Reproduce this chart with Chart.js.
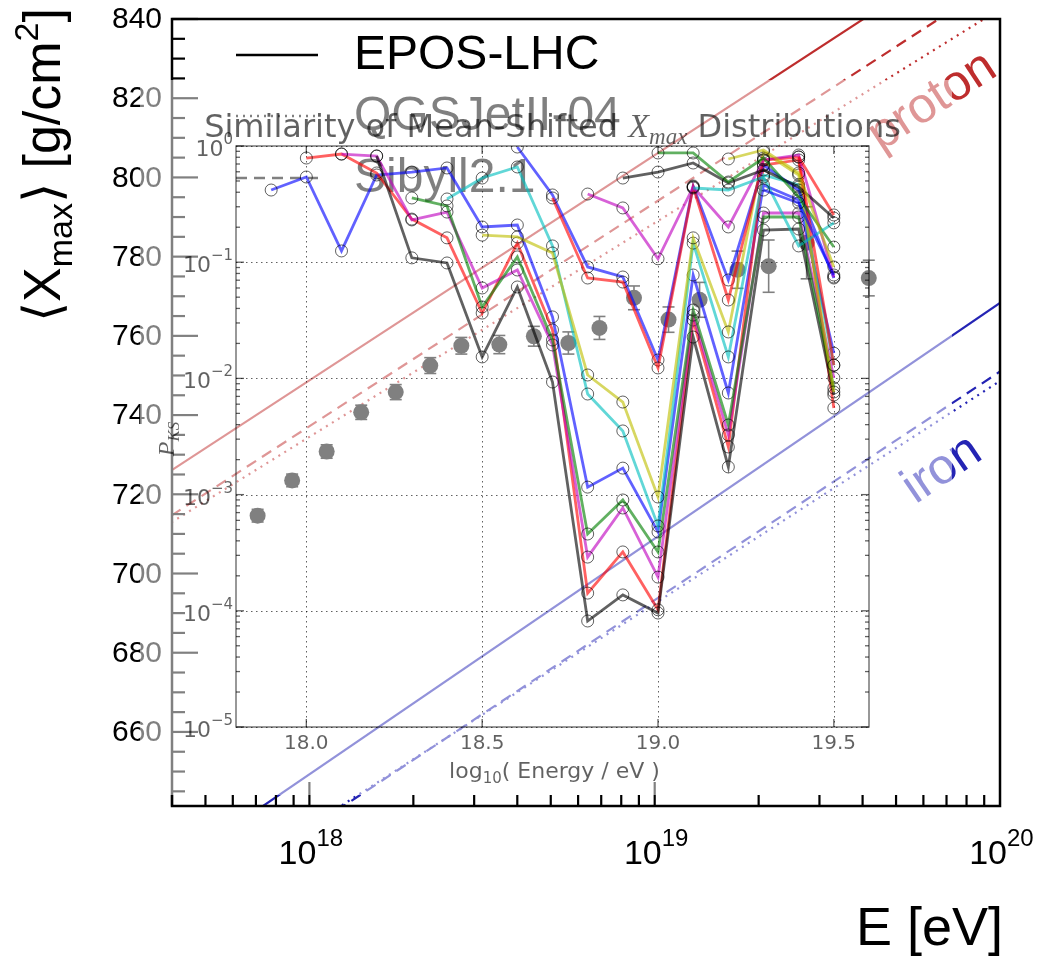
<!DOCTYPE html>
<html>
<head>
<meta charset="utf-8">
<script src="https://cdn.jsdelivr.net/npm/chart.js@4.4.1/dist/chart.umd.min.js"></script>
<style>
  html, body { margin: 0; padding: 0; background: #ffffff; }
  #stage { position: relative; width: 1040px; height: 960px; overflow: hidden; }
  #stage canvas { position: absolute; left: 0; top: 0; }
</style>
</head>
<body>
<div id="stage">
  <canvas id="xmaxCanvas" width="1040" height="960"></canvas>
  <canvas id="ksCanvas" width="1040" height="960"></canvas>
</div>
<script>
// ---------- <Xmax> vs energy: measured points ----------
const augerLogE = [17.85, 17.95, 18.05, 18.15, 18.25, 18.35, 18.44, 18.55, 18.65, 18.75, 18.84, 18.94, 19.04, 19.13, 19.24, 19.33, 19.44, 19.62];
const augerXmax = [714.6, 723.5, 730.8, 740.7, 745.8, 752.5, 757.5, 757.8, 759.9, 758.2, 762.0, 769.6, 764.1, 769.1, 776.7, 777.6, 783.5, 774.6];
const augerErr  = [1.6, 1.6, 1.7, 1.8, 1.9, 2.0, 2.1, 2.3, 2.5, 2.8, 2.9, 3.0, 3.2, 4.4, 4.7, 6.6, 9.1, 4.5];

// ---------- model predictions (straight lines in log E) ----------
const modelLogE     = [17.6, 20.0];
const protonEPOS    = [726.0, 862.5];
const protonQGSJet  = [712.9, 842.5];
const protonSibyll  = [714.6, 850.0];
const ironEPOS      = [625.5, 768.3];
const ironQGSJet    = [613.7, 748.6];
const ironSibyll    = [612.5, 751.0];

// ---------- axis ticks of the <Xmax> frame ----------
const xmaxTicks   = [660, 680, 700, 720, 740, 760, 780, 800, 820, 840];
const energyTicks = [18, 19, 20];
const legendNames = ['EPOS-LHC', 'QGSJetII-04', 'Sibyll2.1'];

// ---------- KS p-values of mean-shifted Xmax distributions ----------
const ksEnergy = [17.9, 18.0, 18.1, 18.2, 18.3, 18.4, 18.5, 18.6, 18.7, 18.8, 18.9, 19.0, 19.1, 19.2, 19.3, 19.4, 19.5];
const ref178 = [0.418, 0.541, 0.125, 0.563, 0.597, 0.647, 0.201, 0.209, 0.0338, 0.00116, 0.00169, 0.000477, 0.0776, 0.00749, 0.462, 0.343, 0.0165];
const ref179 = [null, 0.788, 0.853, 0.586, 0.235, 0.162, 0.0365, 0.146, 0.0261, 0.000142, 0.000321, 0.000102, 0.0318, 0.00257, 0.686, 0.758, 0.00556];
const ref180 = [null, null, 0.853, 0.820, 0.231, 0.270, 0.0600, 0.0857, 0.0194, 0.000290, 0.000767, 0.000195, 0.0351, 0.00326, 0.265, 0.265, 0.0101];
const ref181 = [null, null, null, 0.820, 0.109, 0.0985, 0.0153, 0.0612, 0.00931, 0.0000817, 0.000137, 0.0000957, 0.0227, 0.00173, 0.189, 0.193, 0.00720];
const ref182 = [null, null, null, null, 0.357, 0.305, 0.0412, 0.111, 0.0214, 0.000458, 0.000899, 0.000321, 0.0388, 0.00397, 0.245, 0.245, 0.00827];
const ref183 = [null, null, null, null, null, 0.350, 0.530, 0.660, 0.138, 0.00734, 0.00353, 0.000537, 0.146, 0.0153, 0.563, 0.462, 0.0130];
const ref184 = [null, null, null, null, null, null, 0.171, 0.165, 0.120, 0.0107, 0.00626, 0.000953, 0.162, 0.0251, 0.888, 0.563, 0.00764];
const ref185 = [null, null, null, null, null, null, null, 0.980, 0.379, 0.0910, 0.0746, 0.0144, 0.453, 0.0703, 0.686, 0.418, 0.0731];
const ref186 = [null, null, null, null, null, null, null, null, 0.357, 0.0731, 0.0675, 0.0123, 0.444, 0.0473, 0.758, 0.804, 0.0130];
const ref187 = [null, null, null, null, null, null, null, null, null, 0.386, 0.293, 0.107, 0.444, 0.201, 0.758, 0.837, 0.0746];
const ref188 = [null, null, null, null, null, null, null, null, null, null, 0.530, 0.597, 0.714, 0.480, 0.622, 0.444, 0.240];
const ref189 = [null, null, null, null, null, null, null, null, null, null, null, 0.871, 0.871, 0.490, 0.788, 0.364, 0.135];
const ref190 = [null, null, null, null, null, null, null, null, null, null, null, null, 0.435, 0.418, 0.541, 0.138, 0.218];
const ref191 = [null, null, null, null, null, null, null, null, null, null, null, null, null, 0.773, 0.924, 0.586, 0.0910];
const ref192 = [null, null, null, null, null, null, null, null, null, null, null, null, null, null, 0.418, 0.323, 0.0776];
const ref193 = [null, null, null, null, null, null, null, null, null, null, null, null, null, null, null, 0.804, 0.255];
const ksSeries = [ref178, ref179, ref180, ref181, ref182, ref183, ref184, ref185, ref186, ref187, ref188, ref189, ref190, ref191, ref192, ref193];
const ksColors = ['0,0,255', '255,0,0', '191,0,191', '0,0,0', '0,128,0', '0,191,191', '191,191,0',
                  '0,0,255', '255,0,0', '191,0,191', '0,0,0', '0,128,0', '0,191,191', '191,191,0',
                  '0,0,255', '255,0,0'];
const ksXTicks = [18.0, 18.5, 19.0, 19.5];
const ksXTickLabels = ['18.0', '18.5', '19.0', '19.5'];
const ksYExponents = [0, -1, -2, -3, -4, -5];

// the KS panel is laid over the <Xmax> plot: translucent page, translucent ink
const PANEL_BG = 'rgba(255,255,255,0.5)';
const INK_ALPHA = 0.62;
const INK = 'rgba(0,0,0,' + INK_ALPHA + ')';

// ---------- text helpers ----------
const SANS = '"Liberation Sans", Arial, Helvetica, sans-serif';
const MPL = '"DejaVu Sans", sans-serif';
function mathIt(px) { return 'italic ' + px + 'px "Liberation Serif", "DejaVu Serif", serif'; }

function runWidth(ctx, parts) {
  let w = 0;
  for (const p of parts) { ctx.font = p.font; p.w = ctx.measureText(p.t).width; w += p.w; }
  return w;
}
function drawRun(ctx, parts, x, y, align, angle) {
  const w = runWidth(ctx, parts);
  let cx = align === 'center' ? -w / 2 : (align === 'right' ? -w : 0);
  ctx.save();
  ctx.translate(x, y);
  if (angle) ctx.rotate(angle);
  ctx.textAlign = 'left';
  ctx.textBaseline = 'alphabetic';
  for (const p of parts) {
    ctx.font = p.font;
    ctx.fillText(p.t, cx, p.dy || 0);
    cx += p.w;
  }
  ctx.restore();
}
function seg(ctx, x1, y1, x2, y2) {
  ctx.beginPath(); ctx.moveTo(x1, y1); ctx.lineTo(x2, y2); ctx.stroke();
}

// ---------- frame, ticks, labels and legend of the <Xmax> plot ----------
const PROTON_RED = '#be2d2d';
const IRON_BLUE = '#2424b4';

const xmaxFrame = {
  id: 'xmaxFrame',
  afterDatasetsDraw(chart) {
    const ctx = chart.ctx, xs = chart.scales.x, ys = chart.scales.y;
    ctx.save();
    ctx.strokeStyle = '#000'; ctx.lineWidth = 1.6;
    augerLogE.forEach((v, i) => {
      const px = xs.getPixelForValue(Math.pow(10, v));
      const yLo = ys.getPixelForValue(augerXmax[i] - augerErr[i]);
      const yHi = ys.getPixelForValue(augerXmax[i] + augerErr[i]);
      seg(ctx, px, yLo, px, yHi);
      seg(ctx, px - 6, yLo, px + 6, yLo);
      seg(ctx, px - 6, yHi, px + 6, yHi);
    });
    ctx.restore();
  },
  afterDraw(chart) {
    const ctx = chart.ctx, xs = chart.scales.x, ys = chart.scales.y;
    const { left, right, top, bottom } = chart.chartArea;
    ctx.save();
    ctx.strokeStyle = '#000'; ctx.fillStyle = '#000';
    ctx.lineWidth = 2.5;
    ctx.strokeRect(left, top, right - left, bottom - top);

    // left axis ticks (inward)
    ctx.lineWidth = 2.2;
    for (let v = 645; v <= 840; v += 5) {
      const py = ys.getPixelForValue(v);
      const len = v % 20 === 0 ? 26 : 13;
      seg(ctx, left, py, left + len, py);
    }
    // bottom axis ticks (inward)
    for (let d = 17; d <= 19; d++) {
      for (let m = 1; m <= 9; m++) {
        const e = m * Math.pow(10, d);
        if (e < 4e17 || e > 1e20) continue;
        const px = xs.getPixelForValue(e);
        seg(ctx, px, bottom, px, bottom - (m === 1 ? 24 : 11));
      }
    }
    // y tick labels
    ctx.font = '30px ' + SANS; ctx.textAlign = 'right'; ctx.textBaseline = 'middle';
    xmaxTicks.forEach(v => ctx.fillText(String(v), 162, ys.getPixelForValue(v) + 1));
    // x tick labels 10^n
    energyTicks.forEach(n => {
      const px = xs.getPixelForValue(Math.pow(10, n));
      ctx.textBaseline = 'alphabetic';
      ctx.font = '34px ' + SANS; ctx.textAlign = 'right';
      ctx.fillText('10', px + 7, 864);
      ctx.font = '24px ' + SANS; ctx.textAlign = 'left';
      ctx.fillText(String(n), px + 7, 846);
    });
    // axis titles
    drawRun(ctx, [{ t: 'E [eV]', font: '54px ' + SANS }], 1003, 945, 'right');
    drawRun(ctx, [
      { t: '\u27E8', font: '52px ' + SANS },
      { t: 'X', font: '52px ' + SANS },
      { t: 'max', font: '34px ' + SANS, dy: 12 },
      { t: '\u27E9', font: '52px ' + SANS },
      { t: ' [g/cm', font: '52px ' + SANS },
      { t: '2', font: '34px ' + SANS, dy: -22 },
      { t: ']', font: '52px ' + SANS }
    ], 60, 165, 'center', -Math.PI / 2);

    // legend
    const legY = [55, 116, 178];
    const legDash = [[], [2, 5], [11, 7]];
    legendNames.forEach((name, i) => {
      ctx.lineWidth = 2.5; ctx.setLineDash(legDash[i]);
      seg(ctx, 236, legY[i], 318, legY[i]);
      ctx.setLineDash([]);
      ctx.font = '48px ' + SANS; ctx.textAlign = 'left'; ctx.textBaseline = 'middle';
      ctx.fillText(name, 354, legY[i] + 1);
    });

    // composition labels
    ctx.fillStyle = PROTON_RED;
    drawRun(ctx, [{ t: 'proton', font: '50px ' + SANS }], 940, 113, 'center', -0.58);
    ctx.fillStyle = IRON_BLUE;
    drawRun(ctx, [{ t: 'iron', font: '50px ' + SANS }], 950, 481, 'center', -0.60);
    ctx.restore();
  }
};

function modelSet(vals, color, dash) {
  return {
    data: modelLogE.map((v, i) => ({ x: Math.pow(10, v), y: vals[i] })),
    showLine: true, borderColor: color, borderWidth: 2.2, borderDash: dash,
    pointRadius: 0, pointHoverRadius: 0, fill: false
  };
}

new Chart(document.getElementById('xmaxCanvas'), {
  type: 'scatter',
  data: {
    datasets: [
      {
        label: 'data',
        data: augerLogE.map((v, i) => ({ x: Math.pow(10, v), y: augerXmax[i] })),
        pointRadius: 8, pointHoverRadius: 8, backgroundColor: '#000', borderWidth: 0
      },
      modelSet(protonEPOS, PROTON_RED, []),
      modelSet(protonQGSJet, PROTON_RED, [2, 5]),
      modelSet(protonSibyll, PROTON_RED, [11, 7]),
      modelSet(ironEPOS, IRON_BLUE, []),
      modelSet(ironQGSJet, IRON_BLUE, [2, 5]),
      modelSet(ironSibyll, IRON_BLUE, [11, 7])
    ]
  },
  options: {
    responsive: false, animation: false, devicePixelRatio: 1, events: [],
    layout: { padding: { left: 172, top: 19, right: 40, bottom: 154 } },
    plugins: { legend: { display: false }, tooltip: { enabled: false } },
    scales: {
      x: { type: 'logarithmic', min: 4e17, max: 1e20, display: false },
      y: { type: 'linear', min: 641.3, max: 840, display: false }
    }
  },
  plugins: [xmaxFrame]
});

// ---------- KS similarity panel ----------
const ksDecor = {
  id: 'ksDecor',
  beforeDraw(chart) {
    const ctx = chart.ctx, xs = chart.scales.x, ys = chart.scales.y;
    const { left, right, top, bottom } = chart.chartArea;
    ctx.save();
    ctx.fillStyle = PANEL_BG;
    ctx.fillRect(140, 80, 812, 715);
    ctx.strokeStyle = INK; ctx.lineWidth = 1; ctx.setLineDash([1.5, 3.5]);
    ksXTicks.forEach(v => { const px = Math.round(xs.getPixelForValue(v)) + 0.5; seg(ctx, px, top, px, bottom); });
    ksYExponents.forEach(e => { const py = Math.round(ys.getPixelForValue(Math.pow(10, e))) + 0.5; seg(ctx, left, py, right, py); });
    ctx.restore();
  },
  afterDraw(chart) {
    const ctx = chart.ctx, xs = chart.scales.x, ys = chart.scales.y;
    const { left, right, top, bottom } = chart.chartArea;
    ctx.save();
    ctx.strokeStyle = INK; ctx.fillStyle = INK; ctx.lineWidth = 1.3;
    ctx.strokeRect(left, top, right - left, bottom - top);
    // log ticks on both vertical spines
    for (let e = -5; e <= 0; e++) {
      for (let m = 1; m <= 9; m++) {
        const v = m * Math.pow(10, e);
        if (v > 1) continue;
        const py = ys.getPixelForValue(v);
        const len = m === 1 ? 8 : 4;
        seg(ctx, left, py, left + len, py);
        seg(ctx, right, py, right - len, py);
      }
    }
    ksXTicks.forEach(v => {
      const px = xs.getPixelForValue(v);
      seg(ctx, px, bottom, px, bottom - 8);
      seg(ctx, px, top, px, top + 8);
    });
    // tick labels
    ksYExponents.forEach(e => {
      const py = ys.getPixelForValue(Math.pow(10, e));
      drawRun(ctx, [
        { t: '10', font: '22px ' + MPL, dy: 10 },
        { t: String(e).replace('-', '\u2212'), font: '15px ' + MPL, dy: -2 }
      ], 233, py, 'right');
    });
    ksXTicks.forEach((v, i) => {
      drawRun(ctx, [{ t: ksXTickLabels[i], font: '20px ' + MPL }], xs.getPixelForValue(v), 749, 'center');
    });
    // axis titles
    const cx = (left + right) / 2;
    drawRun(ctx, [
      { t: 'log', font: '22px ' + MPL },
      { t: '10', font: '15px ' + MPL, dy: 5 },
      { t: '( Energy / eV )', font: '22px ' + MPL }
    ], cx + 2, 778, 'center');
    drawRun(ctx, [
      { t: 'P', font: mathIt(24) },
      { t: 'KS', font: mathIt(17), dy: 5 }
    ], 174, 439, 'center', -Math.PI / 2);
    drawRun(ctx, [
      { t: 'Similarity of Mean-Shifted ', font: '32px ' + MPL },
      { t: 'X', font: mathIt(34) },
      { t: 'max', font: mathIt(23), dy: 7 },
      { t: ' Distributions', font: '32px ' + MPL }
    ], cx, 137, 'center');
    ctx.restore();
  }
};

new Chart(document.getElementById('ksCanvas'), {
  type: 'scatter',
  data: {
    datasets: ksSeries.map((vals, i) => ({
      data: ksEnergy.map((e, j) => (vals[j] == null ? null : { x: e, y: vals[j] })).filter(Boolean),
      showLine: true, borderColor: 'rgba(' + ksColors[i] + ',0.62)', borderWidth: 2.8, fill: false,
      pointRadius: 6, pointHoverRadius: 6, pointBorderColor: INK, pointBorderWidth: 1,
      pointBackgroundColor: 'rgba(0,0,0,0)', order: ksSeries.length - i
    }))
  },
  options: {
    responsive: false, animation: false, devicePixelRatio: 1, events: [],
    layout: { padding: { left: 236, top: 146, right: 171, bottom: 233 } },
    plugins: { legend: { display: false }, tooltip: { enabled: false } },
    scales: {
      x: { type: 'linear', min: 17.8, max: 19.6, display: false },
      y: { type: 'logarithmic', min: 1e-5, max: 1, display: false }
    }
  },
  plugins: [ksDecor]
});
</script>
</body>
</html>
